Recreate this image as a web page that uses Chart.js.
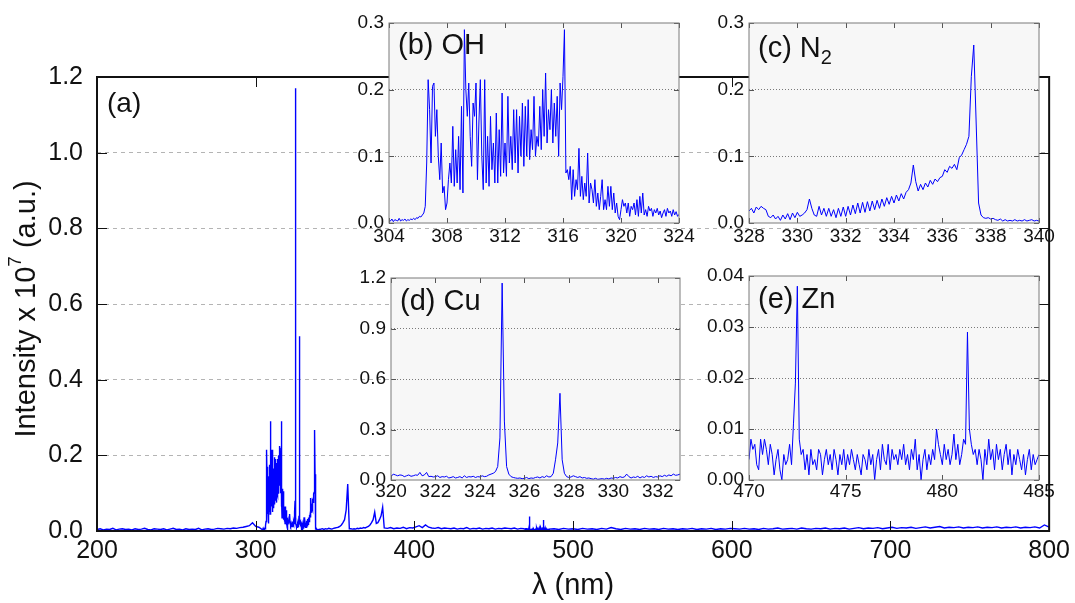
<!DOCTYPE html>
<html>
<head>
<meta charset="utf-8">
<title>Emission spectrum</title>
<script src="https://cdn.jsdelivr.net/npm/chart.js@4.4.1/dist/chart.umd.min.js"></script>
<style>
  html, body { margin: 0; padding: 0; background: #fff; }
  #page { position: relative; width: 1075px; height: 603px; overflow: hidden; }
  #page canvas { position: absolute; }
</style>
</head>
<body>
<div id="page">
  <canvas id="mainChart" width="1075" height="603" style="left:0;top:0"></canvas>
  <canvas id="ohChart" width="365" height="250" style="left:335px;top:0"></canvas>
  <canvas id="n2Chart" width="380" height="250" style="left:695px;top:0"></canvas>
  <canvas id="cuChart" width="365" height="250" style="left:335px;top:255px"></canvas>
  <canvas id="znChart" width="380" height="250" style="left:695px;top:255px"></canvas>
</div>
<script>
const FONT = "'Liberation Sans', Arial, sans-serif";
Chart.defaults.font.family = FONT;
Chart.defaults.color = '#111';

// wavelengths of an evenly sampled stretch
function steps(start, step, n) {
  return Array.from({ length: n }, (_, i) => +(start + i * step).toFixed(2));
}

// ---- (b) OH band, 304-324 nm every 0.1 nm
const ohY = [
  0.004,0.003,0.006,0.002,0.005,0.004,0.003,0.007,0.003,0.005,
  0.004,0.006,0.003,0.005,0.004,0.006,0.005,0.007,0.005,0.008,
  0.007,0.010,0.009,0.012,0.015,0.025,0.090,0.215,0.170,0.090,
  0.205,0.210,0.130,0.170,0.100,0.065,0.120,0.045,0.055,0.020,
  0.030,0.065,0.090,0.060,0.145,0.055,0.110,0.060,0.130,0.050,
  0.175,0.045,0.290,0.200,0.160,0.210,0.130,0.085,0.180,0.160,
  0.210,0.065,0.150,0.215,0.100,0.050,0.215,0.060,0.130,0.055,
  0.160,0.080,0.120,0.060,0.165,0.060,0.140,0.070,0.195,0.075,
  0.120,0.070,0.190,0.090,0.130,0.080,0.170,0.090,0.170,0.075,
  0.160,0.100,0.180,0.085,0.175,0.100,0.185,0.095,0.140,0.110,
  0.190,0.100,0.130,0.115,0.175,0.110,0.200,0.130,0.225,0.120,
  0.170,0.140,0.200,0.120,0.180,0.130,0.190,0.100,0.210,0.170,
  0.220,0.290,0.075,0.080,0.065,0.085,0.035,0.080,0.040,0.065,
  0.050,0.112,0.040,0.070,0.035,0.060,0.040,0.105,0.030,0.060,
  0.050,0.030,0.065,0.025,0.045,0.020,0.040,0.065,0.020,0.035,
  0.020,0.055,0.025,0.055,0.020,0.045,0.015,0.030,0.010,0.005,
  0.020,0.035,0.025,0.030,0.015,0.030,0.010,0.025,0.020,0.030,
  0.012,0.035,0.010,0.040,0.015,0.045,0.012,0.020,0.010,0.025,
  0.018,0.022,0.010,0.020,0.015,0.022,0.012,0.018,0.008,0.015,
  0.020,0.010,0.022,0.015,0.018,0.010,0.020,0.012,0.017,0.010,
  0.013
];
const ohX = steps(304, 0.1, ohY.length);
const ohXTicks = [304, 308, 312, 316, 320, 324];
const ohYTicks = [0, 0.1, 0.2, 0.3];

// ---- (c) N2 band, 328-340 nm every 0.1 nm
const n2Y = [
  0.018,0.022,0.015,0.024,0.020,0.025,0.022,0.020,0.010,0.008,
  0.012,0.006,0.010,0.004,0.012,0.006,0.014,0.005,0.015,0.008,
  0.016,0.010,0.012,0.015,0.020,0.036,0.022,0.012,0.010,0.025,
  0.012,0.022,0.010,0.022,0.010,0.020,0.008,0.022,0.010,0.024,
  0.010,0.025,0.012,0.027,0.014,0.030,0.015,0.031,0.016,0.032,
  0.018,0.033,0.020,0.034,0.022,0.036,0.025,0.038,0.028,0.040,
  0.030,0.042,0.033,0.044,0.036,0.046,0.050,0.060,0.087,0.062,
  0.048,0.058,0.050,0.060,0.054,0.064,0.058,0.066,0.062,0.068,
  0.070,0.080,0.076,0.085,0.082,0.088,0.080,0.098,0.102,0.110,
  0.118,0.130,0.220,0.267,0.150,0.030,0.012,0.008,0.007,0.008,
  0.006,0.007,0.005,0.004,0.006,0.003,0.005,0.003,0.004,0.003,
  0.005,0.003,0.004,0.003,0.005,0.003,0.004,0.005,0.003,0.004,
  0.003
];
const n2X = steps(328, 0.1, n2Y.length);
const n2XTicks = [328, 330, 332, 334, 336, 338, 340];
const n2YTicks = [0, 0.1, 0.2, 0.3];

// ---- (d) Cu lines, 320-333 nm every 0.1 nm
const cuY = [
  0.020,0.035,0.030,0.025,0.030,0.028,0.020,0.025,0.030,0.022,
  0.025,0.030,0.028,0.045,0.025,0.030,0.045,0.020,0.022,0.018,
  0.020,0.025,0.015,0.020,0.018,0.022,0.012,0.015,0.020,0.012,
  0.015,0.020,0.012,0.025,0.015,0.020,0.018,0.022,0.015,0.020,
  0.018,0.025,0.020,0.022,0.030,0.035,0.040,0.050,0.080,0.250,
  1.170,0.350,0.080,0.035,0.020,0.015,0.012,0.010,0.012,0.008,
  0.010,0.015,0.008,0.012,0.010,0.015,0.018,0.012,0.020,0.015,
  0.025,0.018,0.020,0.040,0.120,0.220,0.515,0.120,0.040,0.020,
  0.015,0.018,0.025,0.020,0.015,0.020,0.012,0.015,0.010,0.012,
  0.008,0.005,0.010,0.004,0.006,0.008,0.005,0.010,0.006,0.012,
  0.010,0.015,0.012,0.020,0.015,0.018,0.035,0.020,0.012,0.018,
  0.015,0.022,0.012,0.020,0.015,0.025,0.018,0.022,0.015,0.020,
  0.018,0.025,0.020,0.028,0.022,0.030,0.025,0.035,0.028,0.030,
  0.035
];
const cuX = steps(320, 0.1, cuY.length);
const cuXTicks = [320, 322, 324, 326, 328, 330, 332];
const cuYTicks = [0, 0.3, 0.6, 0.9, 1.2];

// ---- (e) Zn lines, 470-485 nm every 0.1 nm
const znY = [
  0.004,0.008,0.006,0.007,0.003,0.002,0.008,0.005,0.008,0.006,
  0.003,0.007,0.005,0.001,0.004,0.006,0.002,0.000,0.005,0.003,
  0.004,0.007,0.003,0.011,0.019,0.038,0.008,0.005,0.006,0.002,
  0.005,0.001,0.006,0.003,0.004,0.002,0.006,0.005,0.001,0.004,
  0.006,0.003,0.005,0.002,0.006,0.004,0.001,0.005,0.003,0.006,
  0.002,0.005,0.003,0.006,0.004,0.002,0.005,0.003,0.001,0.005,
  0.004,0.002,0.006,0.003,0.005,0.000,0.004,0.006,0.002,0.007,
  0.004,0.003,0.007,0.002,0.006,0.004,0.005,0.003,0.006,0.004,
  0.007,0.003,0.005,0.002,0.006,0.004,0.008,0.002,0.005,0.000,
  0.004,0.006,0.002,0.005,0.003,0.006,0.004,0.010,0.007,0.005,
  0.003,0.007,0.004,0.006,0.003,0.005,0.009,0.004,0.007,0.003,
  0.005,0.008,0.007,0.029,0.010,0.007,0.005,0.006,0.003,0.006,
  0.004,0.000,0.006,0.003,0.008,0.004,0.006,0.002,0.007,0.004,
  0.006,0.002,0.005,0.007,0.003,0.006,0.001,0.005,0.003,0.006,
  0.004,0.002,0.005,0.001,0.004,0.006,0.002,0.005,0.003,0.004,
  0.005
];
const znX = steps(470, 0.1, znY.length);
const znXTicks = [470, 475, 480, 485];
const znYTicks = [0, 0.01, 0.02, 0.03, 0.04];

// ---- (a) full spectrum: background stretches between the zoomed regions
const uvY = [ // 200-302 nm, every 2 nm
  0.004,0.006,0.003,0.005,0.004,0.007,0.003,0.005,0.006,0.004,
  0.005,0.003,0.006,0.004,0.005,0.007,0.004,0.003,0.006,0.005,
  0.004,0.006,0.003,0.005,0.007,0.004,0.005,0.003,0.006,0.004,
  0.005,0.004,0.007,0.003,0.005,0.006,0.004,0.005,0.007,0.006,
  0.005,0.007,0.006,0.008,0.007,0.009,0.010,0.012,0.014,0.022,
  0.012,0.010
];
const uvX = steps(200, 2, uvY.length);
const n2bY = [ // 341-381 nm, every 1 nm
  0.005,0.006,0.004,0.006,0.005,0.007,0.006,0.005,0.007,0.008,
  0.009,0.010,0.012,0.016,0.022,0.030,0.055,0.124,0.006,0.006,
  0.005,0.006,0.005,0.007,0.006,0.008,0.007,0.009,0.008,0.010,
  0.012,0.016,0.022,0.030,0.050,0.020,0.022,0.030,0.040,0.063,
  0.008
];
const n2bX = steps(341, 1, n2bY.length);
const visY = [ // 383-469 nm, every 2 nm
  0.007,0.009,0.006,0.008,0.007,0.010,0.006,0.009,0.008,0.011,
  0.014,0.009,0.016,0.010,0.008,0.007,0.009,0.006,0.008,0.007,
  0.006,0.008,0.005,0.007,0.006,0.009,0.005,0.007,0.006,0.008,
  0.005,0.007,0.006,0.008,0.005,0.007,0.006,0.008,0.007,0.006,
  0.008,0.005,0.007,0.006
];
const visX = steps(383, 2, visY.length);
const redY = [ // 488-800 nm, every 3 nm
  0.006,0.004,0.007,0.005,0.006,0.004,0.007,0.005,0.006,0.004,
  0.007,0.005,0.009,0.006,0.004,0.007,0.005,0.006,0.004,0.007,
  0.005,0.006,0.004,0.007,0.005,0.006,0.004,0.006,0.005,0.007,
  0.004,0.006,0.005,0.007,0.004,0.006,0.005,0.007,0.006,0.005,
  0.007,0.005,0.006,0.004,0.007,0.005,0.006,0.008,0.005,0.006,
  0.007,0.005,0.008,0.006,0.005,0.007,0.006,0.008,0.005,0.007,
  0.006,0.008,0.005,0.007,0.009,0.006,0.008,0.007,0.009,0.006,
  0.008,0.010,0.007,0.009,0.008,0.010,0.007,0.009,0.011,0.008,
  0.010,0.012,0.008,0.010,0.009,0.011,0.008,0.010,0.009,0.011,
  0.008,0.010,0.009,0.011,0.008,0.010,0.009,0.011,0.008,0.010,
  0.009,0.011,0.008,0.016,0.010
];
const redX = steps(488, 3, redY.length);
const mainXTicks = [200, 300, 400, 500, 600, 700, 800];
const mainYTicks = [0, 0.2, 0.4, 0.6, 0.8, 1.0, 1.2];

// stitch the pieces into one spectrum
const spectrum = [];
function addPart(xs, ys, lo, hi) {
  xs.forEach((x, i) => { if (x >= lo && x < hi) spectrum.push({ x: x, y: ys[i] }); });
}
addPart(uvX, uvY, 200, 304);
addPart(ohX, ohY, 304, 320);
addPart(cuX, cuY, 320, 328);
addPart(n2X, n2Y, 328, 341);
addPart(n2bX, n2bY, 341, 382);
addPart(visX, visY, 382, 470);
addPart(znX, znY, 470, 486);
addPart(redX, redY, 486, 801);

// text made of pieces (super/subscripts)
function partsWidth(ctx, parts) {
  let w = 0;
  parts.forEach(p => { ctx.font = p.s + 'px ' + FONT; w += ctx.measureText(p.t).width; });
  return w;
}
function drawParts(ctx, parts, x, y) {
  let cx = x;
  parts.forEach(p => {
    ctx.font = p.s + 'px ' + FONT;
    ctx.fillText(p.t, cx, y + (p.dy || 0));
    cx += ctx.measureText(p.t).width;
  });
}

// plot box, inward ticks, panel label
const frame = {
  id: 'frame',
  beforeDraw(chart, args, o) {
    if (!o.fill) return;
    const { ctx, chartArea: a } = chart;
    ctx.save();
    ctx.fillStyle = o.fill;
    ctx.fillRect(a.left, a.top, a.width, a.height);
    ctx.restore();
  },
  afterDatasetsDraw(chart, args, o) {
    const { ctx, chartArea: a, scales } = chart;
    const x = scales.x, y = scales.y;
    ctx.save();
    ctx.strokeStyle = o.tickColor;
    ctx.lineWidth = 1;
    ctx.beginPath();
    x.ticks.forEach(t => {
      const px = Math.round(x.getPixelForValue(t.value)) + 0.5;
      ctx.moveTo(px, a.bottom); ctx.lineTo(px, a.bottom - o.tick);
      ctx.moveTo(px, a.top); ctx.lineTo(px, a.top + o.tick);
    });
    y.ticks.forEach(t => {
      const py = Math.round(y.getPixelForValue(t.value)) + 0.5;
      ctx.moveTo(a.left, py); ctx.lineTo(a.left + o.tick, py);
      ctx.moveTo(a.right, py); ctx.lineTo(a.right - o.tick, py);
    });
    ctx.stroke();
    ctx.strokeStyle = o.color;
    ctx.lineWidth = o.width;
    ctx.strokeRect(a.left, a.top, a.width, a.height);
    if (o.label) {
      ctx.fillStyle = '#111';
      ctx.textBaseline = 'alphabetic';
      ctx.textAlign = 'left';
      drawParts(ctx, o.label, a.left + o.lx, a.top + o.ly);
    }
    ctx.restore();
  }
};

// rotated y title with a superscript
const yTitle = {
  id: 'yTitle',
  afterDraw(chart, args, o) {
    const ctx = chart.ctx;
    ctx.save();
    ctx.translate(o.x, o.y);
    ctx.rotate(-Math.PI / 2);
    ctx.fillStyle = '#111';
    ctx.textBaseline = 'middle';
    ctx.textAlign = 'left';
    drawParts(ctx, o.parts, -partsWidth(ctx, o.parts) / 2, 0);
    ctx.restore();
  }
};

new Chart(document.getElementById('mainChart'), {
  type: 'line',
  data: { datasets: [{ data: spectrum, borderColor: '#0000ff', borderWidth: 1.4, pointRadius: 0, tension: 0 }] },
  options: {
    responsive: false, animation: false, devicePixelRatio: 1,
    layout: { padding: { top: 77, right: 23, left: 0, bottom: 0 } },
    plugins: {
      legend: { display: false }, tooltip: { enabled: false },
      frame: { color: '#111', width: 2, tick: 10, tickColor: '#111',
               label: [{ t: '(a)', s: 28 }], lx: 10, ly: 35 },
      yTitle: { x: 27, y: 309, parts: [{ t: 'Intensity x 10', s: 29 }, { t: '7', s: 19, dy: -11 }, { t: ' (a.u.)', s: 29 }] }
    },
    scales: {
      x: {
        type: 'linear', min: 200, max: 800,
        afterBuildTicks: s => { s.ticks = mainXTicks.map(v => ({ value: v })); },
        afterFit: s => { s.height = 72; },
        grid: { display: false, drawTicks: false }, border: { display: false },
        ticks: { font: { size: 25 }, padding: 5, maxRotation: 0, autoSkip: false, callback: v => String(v) },
        title: { display: true, text: 'λ (nm)', font: { size: 29 }, padding: { top: 0, bottom: 0 }, color: '#111' }
      },
      y: {
        min: 0, max: 1.2,
        afterBuildTicks: s => { s.ticks = mainYTicks.map(v => ({ value: v })); },
        afterFit: s => { s.width = 97; },
        grid: { drawTicks: false, color: c => (c.tick && (c.tick.value === 0 || c.tick.value === 1.2)) ? 'rgba(0,0,0,0)' : '#b4b4b4' },
        border: { display: false, dash: [4, 4] },
        ticks: { font: { size: 25 }, padding: 14, callback: v => v.toFixed(1) }
      }
    }
  },
  plugins: [frame, yTitle]
});

function makeInset(id, xs, ys, o) {
  return new Chart(document.getElementById(id), {
    type: 'line',
    data: { datasets: [{ data: xs.map((x, i) => ({ x: x, y: ys[i] })), borderColor: '#0000ff', borderWidth: 1, pointRadius: 0, tension: 0 }] },
    options: {
      responsive: false, animation: false, devicePixelRatio: 1,
      layout: { padding: { top: o.top, right: o.right, left: 0, bottom: 0 } },
      plugins: {
        legend: { display: false }, tooltip: { enabled: false },
        frame: { fill: '#f7f7f7', color: '#7a7a7a', width: 1, tick: 5, tickColor: '#555', label: o.label, lx: 9, ly: o.ly }
      },
      scales: {
        x: {
          type: 'linear', min: o.xMin, max: o.xMax,
          afterBuildTicks: s => { s.ticks = o.xTicks.map(v => ({ value: v })); },
          afterFit: s => { s.height = o.bottom; },
          grid: { display: false, drawTicks: false }, border: { display: false },
          ticks: { font: { size: 19 }, padding: o.xPad, maxRotation: 0, autoSkip: false, callback: v => String(v) }
        },
        y: {
          min: o.yMin, max: o.yMax,
          afterBuildTicks: s => { s.ticks = o.yTicks.map(v => ({ value: v })); },
          afterFit: s => { s.width = o.left; },
          grid: { drawTicks: false, color: c => (c.tick && (c.tick.value === o.yMin || c.tick.value === o.yMax)) ? 'rgba(0,0,0,0)' : '#7a7a7a' },
          border: { display: false, dash: [1, 2] },
          ticks: { font: { size: 19 }, padding: 5, callback: v => v.toFixed(o.dec) }
        }
      }
    },
    plugins: [frame]
  });
}

makeInset('ohChart', ohX, ohY, {
  xMin: 304, xMax: 324, xTicks: ohXTicks, yMin: 0, yMax: 0.3, yTicks: ohYTicks, dec: 1,
  left: 54, right: 21, top: 23, bottom: 27, xPad: 2, ly: 31,
  label: [{ t: '(b) OH', s: 29 }]
});
makeInset('n2Chart', n2X, n2Y, {
  xMin: 328, xMax: 340, xTicks: n2XTicks, yMin: 0, yMax: 0.3, yTicks: n2YTicks, dec: 1,
  left: 54, right: 36, top: 23, bottom: 27, xPad: 2, ly: 34,
  label: [{ t: '(c) N', s: 29 }, { t: '2', s: 20, dy: 7 }]
});
makeInset('cuChart', cuX, cuY, {
  xMin: 320, xMax: 333, xTicks: cuXTicks, yMin: 0, yMax: 1.2, yTicks: cuYTicks, dec: 1,
  left: 56, right: 20, top: 23, bottom: 25, xPad: 0, ly: 32,
  label: [{ t: '(d) Cu', s: 29 }]
});
makeInset('znChart', znX, znY, {
  xMin: 470, xMax: 485, xTicks: znXTicks, yMin: 0, yMax: 0.04, yTicks: znYTicks, dec: 2,
  left: 54, right: 36, top: 21, bottom: 25, xPad: 0, ly: 32,
  label: [{ t: '(e) Zn', s: 29 }]
});
</script>
</body>
</html>
